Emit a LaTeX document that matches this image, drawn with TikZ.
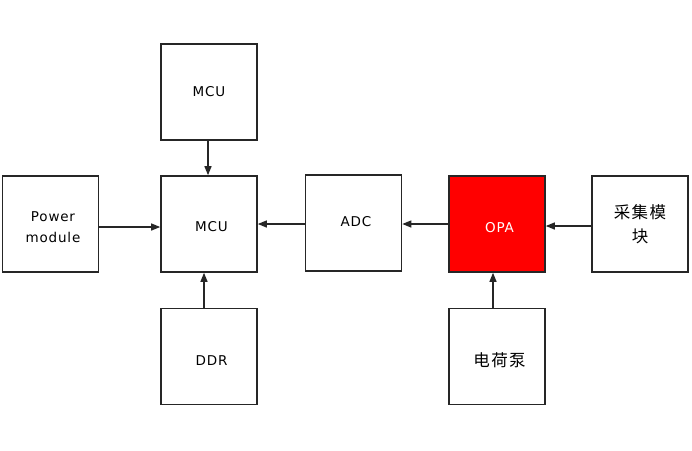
\documentclass[tikz,border=0pt]{standalone}
\usepackage{fontspec}
\setmainfont{DejaVu Sans}[LetterSpace=6]
\newfontfamily\cjk{Noto Sans CJK SC}[LetterSpace=8]
\usetikzlibrary{arrows.meta}
\newcommand{\dn}[2]{\raisebox{-#1}[\height][\depth]{\hspace*{5pt}#2}}
\tikzset{
  box/.style={draw=black!85, line width=1.6pt, minimum width=96pt, minimum height=96pt, inner sep=0pt, align=center, font=\fontsize{13.5}{21}\selectfont, fill=white},
  redbox/.style={box, fill=red, text=white},
  cjkbox/.style={box, font=\cjk\fontsize{16.5}{24}\selectfont},
  conn/.style={draw=black!85, line width=1.3pt, -{Triangle[length=9pt,width=7pt]}}
}
\begin{document}
\begin{tikzpicture}[x=1pt,y=-1pt]
\useasboundingbox (0,0) rectangle (692,450);
\node[box] (mcutop) at (209,92) {MCU};
\node[box] (mcu) at (209,224) {\dn{3pt}{MCU}};
\node[box] (pm) at (50.5,224) {\dn{3pt}{Power}\\\dn{3pt}{module}};
\node[box] (ddr) at (209,356.5) {\dn{4pt}{DDR}};
\node[box] (adc) at (353.5,223) {\dn{-1pt}{ADC}};
\node[redbox] (opa) at (497,224) {\dn{4pt}{OPA}};
\node[cjkbox] (cj) at (640,224) {采集模\\块};
\node[cjkbox] (dhb) at (497,356.5) {\dn{4pt}{电荷泵}};
\coordinate (p1) at ([yshift=-3pt]pm.east);
\coordinate (p2) at ([yshift=-1pt]adc.west);
\coordinate (p3) at ([yshift=0pt]opa.west);
\coordinate (p4) at ([yshift=-2pt]cj.west);
\draw[conn] ([xshift=-1pt]mcutop.south) -- ([xshift=-1pt]mcu.north);
\draw[conn] ([xshift=-5pt]ddr.north) -- ([xshift=-5pt]mcu.south);
\draw[conn] (p1) -- (p1 -| mcu.west);
\draw[conn] (p2) -- (p2 -| mcu.east);
\draw[conn] (p3) -- (p3 -| adc.east);
\draw[conn] (p4) -- (p4 -| opa.east);
\draw[conn] ([xshift=-4pt]dhb.north) -- ([xshift=-4pt]opa.south);
\end{tikzpicture}
\end{document}
